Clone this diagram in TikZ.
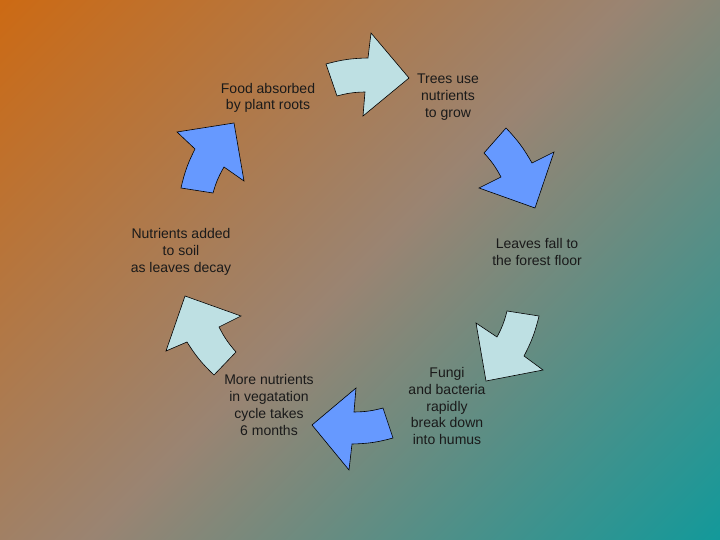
\documentclass[tikz,border=0pt]{standalone}
\usepackage{fontspec}
\setmainfont{Liberation Sans}
\usepackage{xcolor}
\definecolor{bgorange}{HTML}{CC6A14}
\definecolor{bgmid}{HTML}{9A8472}
\definecolor{bgteal}{HTML}{13999A}
\definecolor{pale}{HTML}{BEE0E3}
\definecolor{sky}{HTML}{6699FF}
\definecolor{ink}{HTML}{1A1A1A}
\pgfdeclarehorizontalshading{slidebg}{100bp}{color(0bp)=(bgorange); color(14.6bp)=(bgorange); color(50bp)=(bgmid); color(85.4bp)=(bgteal); color(100bp)=(bgteal)}
\tikzset{
  cyc/.style={draw=black,line width=0.6bp,line join=miter},
  palearrow/.style={cyc,fill=pale},
  skyarrow/.style={cyc,fill=sky},
  txt/.style={font=\fontsize{14bp}{16.7bp}\selectfont,align=center,text=ink,inner sep=0pt},
  every node/.style={txt}
}

\begin{document}
\begin{tikzpicture}[x=1bp,y=-1bp]
\shade[shading=slidebg,shading angle=-45] (0,0) rectangle (720,540);
\useasboundingbox (0,0) rectangle (720,540);

% curved block arrows, clockwise
\draw[palearrow] (326,64) to[bend left=7] (368,58) -- (371,33) -- (409,78) -- (363,116) -- (365,92) to[bend right=7] (337,96) -- cycle;
\draw[skyarrow] (506,128) to[bend left=7] (532,163) -- (554,152) -- (535,208) -- (479,188) -- (501,177) to[bend right=7] (484,153) -- cycle;
\draw[palearrow] (539,316) to[bend left=7] (524,356) -- (543,370) -- (486,381) -- (476,323) -- (497,337) to[bend right=7] (507,311) -- cycle;
\draw[skyarrow] (393,438) to[bend left=7] (352,444) -- (349,470) -- (312,425) -- (356,388) -- (354,412) to[bend right=7] (383,408) -- cycle;
\draw[palearrow] (214,375) to[bend left=7] (187,342) -- (166,351) -- (185,296) -- (241,316) -- (219,327) to[bend right=7] (236,352) -- cycle;
\draw[skyarrow] (181,188) to[bend left=7] (195,149) -- (177,132) -- (234,123) -- (244,181) -- (224,167) to[bend right=7] (213,193) -- cycle;

% stages
\node (trees) at (448,97) {Trees use\\nutrients\\to grow};
\node (leaves) at (537,252) {Leaves fall to\\the forest floor};
\node (fungi) at (447,406) {Fungi\\and bacteria\\rapidly\\break down\\into humus};
\node (more) at (269,405) {More nutrients\\in vegatation\\cycle takes\\6 months};
\node (soil) at (181,252) {Nutrients added\\to soil\\as leaves decay};
\node (food) at (268,98) {Food absorbed\\by plant roots};
\end{tikzpicture}
\end{document}
